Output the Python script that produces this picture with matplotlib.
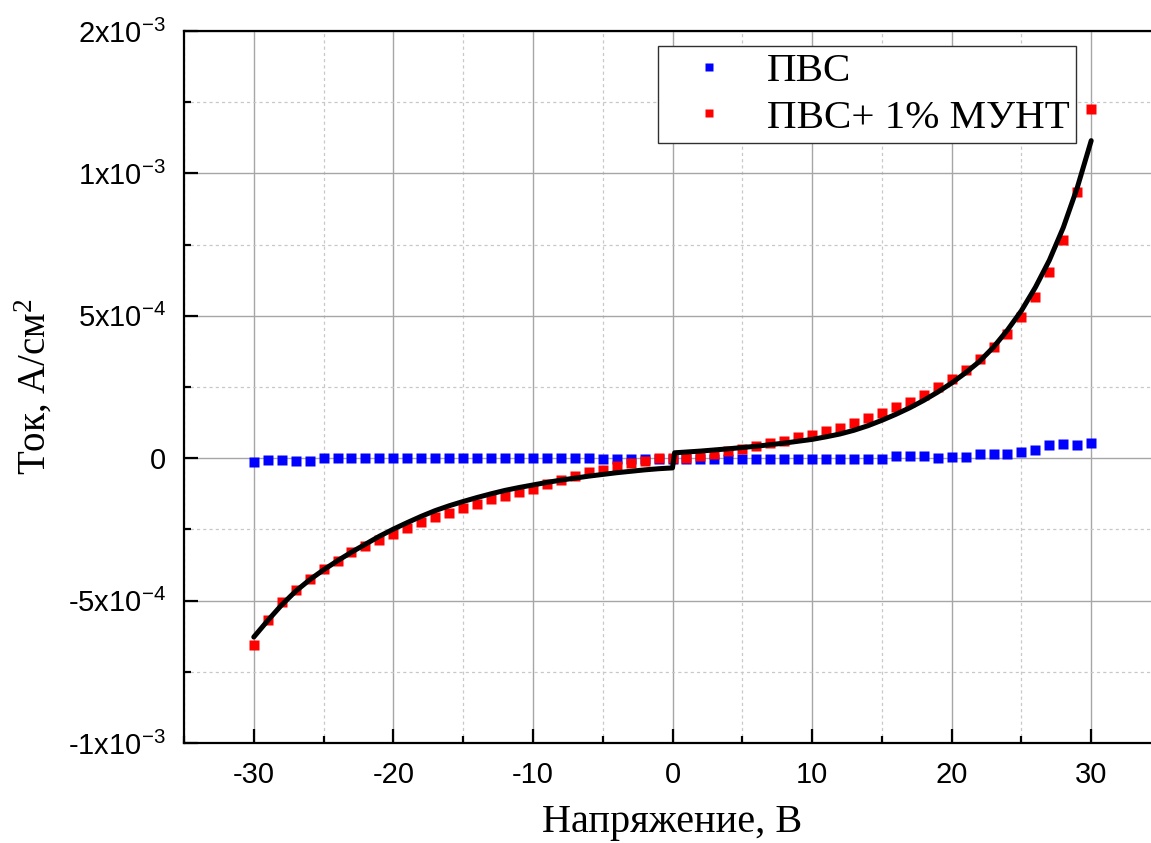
import matplotlib
matplotlib.use("Agg")
import matplotlib.pyplot as plt
from matplotlib.ticker import FixedLocator, MultipleLocator

plt.rcParams['font.family'] = ['Liberation Sans', 'DejaVu Sans']
plt.rcParams['mathtext.default'] = 'regular'
plt.rcParams['axes.unicode_minus'] = False

# voltage, V
voltage = list(range(-30, 31))

# ПВС
pva = [-1.3e-5, -6e-6, -6e-6, -9e-6, -9e-6, -1e-6, -1e-6, -1e-6, -1e-6, -1e-6,
       -1e-6, -1e-6, -1e-6, -1e-6, -1e-6, -1e-6, -1e-6, -1e-6, -1e-6, -1e-6,
       -1e-6, -1e-6, -1e-6, -1e-6, -1e-6, -2e-6, -2e-6, -2e-6, -2e-6, -2e-6,
       -2e-6, -2e-6, -2e-6, -2e-6, -2e-6, -2e-6, -2e-6, -2e-6, -2e-6, -2e-6,
       -2e-6, -2e-6, -2e-6, -2e-6, -2e-6, -2e-6, 7e-6, 7e-6, 7e-6, 2e-6,
       5e-6, 5e-6, 1.4e-5, 1.4e-5, 1.4e-5, 2.1e-5, 3.0e-5, 4.6e-5, 5.1e-5, 4.6e-5,
       5.3e-5]

# ПВС + 1% МУНТ
pva_mwcnt = [-6.57e-4, -5.68e-4, -5.06e-4, -4.63e-4, -4.25e-4, -3.89e-4, -3.60e-4,
             -3.30e-4, -3.07e-4, -2.87e-4, -2.66e-4, -2.46e-4, -2.25e-4, -2.07e-4,
             -1.93e-4, -1.76e-4, -1.60e-4, -1.45e-4, -1.33e-4, -1.19e-4, -1.08e-4,
             -9.0e-5, -7.8e-5, -6.4e-5, -4.9e-5, -4.0e-5, -2.6e-5, -1.8e-5, -9e-6,
             0.0, 2e-6, 2e-6, 7e-6, 1.5e-5, 2.5e-5, 3.3e-5, 4.2e-5, 5.3e-5, 6.0e-5,
             7.3e-5, 8.2e-5, 9.4e-5, 1.07e-4, 1.22e-4, 1.40e-4, 1.57e-4, 1.79e-4,
             1.99e-4, 2.23e-4, 2.49e-4, 2.78e-4, 3.11e-4, 3.49e-4, 3.90e-4, 4.37e-4,
             4.95e-4, 5.66e-4, 6.54e-4, 7.65e-4, 9.36e-4, 1.225e-3]

# fitted curve (black line)
fit_v = [-30, -29, -28, -27, -26, -25, -24, -23, -22, -21, -20, -19, -18, -17, -16,
         -15, -14, -13, -12, -11, -10, -9, -8, -7, -6, -5, -4, -3, -2, -1, 0,
         0.15, 2, 4, 6, 8, 10, 11, 12, 13, 14, 15, 16, 17, 18, 19, 20, 21, 22, 23,
         24, 25, 26, 27, 28, 29, 30]
fit_j = [-6.28e-4, -5.70e-4, -5.15e-4, -4.67e-4, -4.27e-4, -3.92e-4, -3.60e-4,
         -3.30e-4, -3.02e-4, -2.74e-4, -2.49e-4, -2.26e-4, -2.04e-4, -1.84e-4,
         -1.67e-4, -1.52e-4, -1.38e-4, -1.25e-4, -1.13e-4, -1.03e-4, -9.4e-5,
         -8.5e-5, -7.7e-5, -7.0e-5, -6.3e-5, -5.7e-5, -5.1e-5, -4.6e-5, -4.1e-5,
         -3.7e-5, -3.4e-5,
         1.9e-5, 2.5e-5, 3.3e-5, 4.2e-5, 5.3e-5, 6.6e-5, 7.5e-5, 8.5e-5, 9.8e-5,
         1.14e-4, 1.33e-4, 1.54e-4, 1.77e-4, 2.03e-4, 2.32e-4, 2.64e-4, 3.00e-4,
         3.40e-4, 3.90e-4, 4.50e-4, 5.18e-4, 6.00e-4, 6.95e-4, 8.10e-4, 9.50e-4,
         1.115e-3]

y_ticks = [-1e-3, -5e-4, 0, 5e-4, 1e-3, 1.5e-3]
y_labels = ['-1x10$^{-3}$', '-5x10$^{-4}$', '0', '5x10$^{-4}$', '1x10$^{-3}$', '2x10$^{-3}$']
x_ticks = [-30, -20, -10, 0, 10, 20, 30]

fig = plt.figure(figsize=(11.51, 8.43), dpi=100)
ax = fig.add_axes([184 / 1151, 100 / 843, 977 / 1151, 712 / 843])

ax.plot(voltage, pva, 's', color='#0000ff', ms=6.5, mec='none', label='ПВС', zorder=3)
ax.plot(voltage, pva_mwcnt, 's', color='#ff0000', ms=6.5, mec='none',
        label='ПВС+ 1% МУНТ', zorder=3)
ax.plot(fit_v, fit_j, '-', color='black', lw=3.6, zorder=4,
        solid_capstyle='round', solid_joinstyle='round')

ax.set_xlim(-35, 35)
ax.set_ylim(-1e-3, 1.5e-3)
ax.xaxis.set_major_locator(FixedLocator(x_ticks))
ax.xaxis.set_minor_locator(MultipleLocator(5))
ax.yaxis.set_major_locator(FixedLocator(y_ticks))
ax.yaxis.set_minor_locator(MultipleLocator(2.5e-4))
ax.set_yticklabels(y_labels)

ax.grid(which='major', color='#a6a6a6', lw=1.0, ls='-', zorder=0)
ax.grid(which='minor', color='#c8c8c8', lw=0.9, ls=(0, (2.5, 2.5)), zorder=0)

ax.tick_params(which='major', direction='in', length=10, width=1.6, labelsize=21, pad=13)
ax.tick_params(which='minor', direction='in', length=5, width=1.6)
ax.tick_params(axis='y', which='both', left=True, right=False)
ax.tick_params(axis='x', which='both', bottom=True, top=False)

for side in ['left', 'bottom', 'top']:
    ax.spines[side].set_linewidth(1.6)
    ax.spines[side].set_color('black')
ax.spines['right'].set_visible(False)

ax.set_xlabel('Напряжение, В', family='Liberation Serif', fontsize=29)
ax.set_ylabel('Ток, А/см$^2$', family='Liberation Serif', fontsize=28)
ax.xaxis.set_label_coords(0.5, -0.086)
ax.xaxis.label.set_va('top')
ax.yaxis.set_label_coords(-0.132, 0.5)

leg = ax.legend(loc='upper left', bbox_to_anchor=((657.7 - 184) / 977, (743 - 45.7) / 712),
                borderaxespad=0, fancybox=False, edgecolor='#303030', framealpha=1,
                prop={'family': 'Liberation Serif', 'size': 29.5}, markerscale=0.8,
                handlelength=2.19, handletextpad=0.31, borderpad=0.16, labelspacing=0.22)
leg.get_frame().set_linewidth(1.0)

fig.savefig('out.png', dpi=100)
